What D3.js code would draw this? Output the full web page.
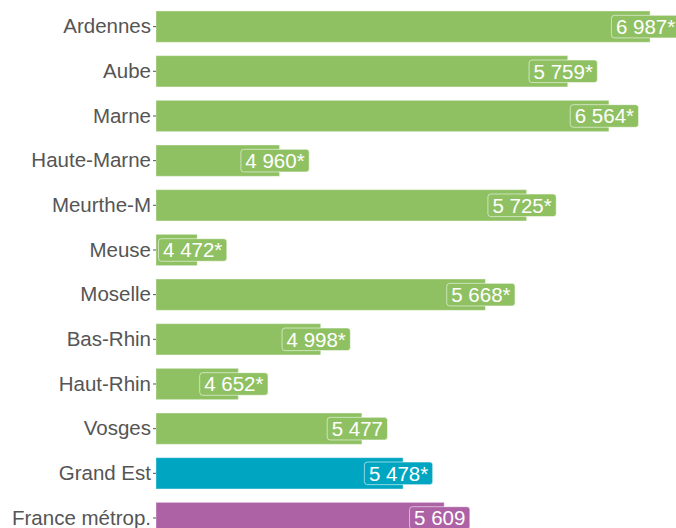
<!DOCTYPE html>
<html><head><meta charset="utf-8">
<script src="https://cdn.jsdelivr.net/npm/d3@7"></script>
<style>body{margin:0;background:#fff}svg{display:block}</style>
</head><body>
<script>
const categories = ["Ardennes","Aube","Marne","Haute-Marne","Meurthe-M","Meuse","Moselle","Bas-Rhin","Haut-Rhin","Vosges","Grand Est","France métrop."];
const values = [6987,5759,6564,4960,5725,4472,5668,4998,4652,5477,5478,5609];
const flags = ["*","*","*","*","*","*","*","*","*","","*",""];
const groups = ["dep","dep","dep","dep","dep","dep","dep","dep","dep","dep","region","france"];
const colors = {dep:"#8fc163", region:"#00a6c1", france:"#ad62a6"};

const W = 676, H = 528;
const svg = d3.select("body").append("svg").attr("width", W).attr("height", H);

// bar length encodes the rank of the value
const sorted = values.slice().sort((a,b)=>a-b);
const rank = values.map(v => sorted.indexOf(v) + 1);

const x = d3.scaleLinear().domain([0, 12.63]).range([156, 676]);
const y = d3.scaleBand().domain(categories).range([6.53, 538.1]).paddingInner(0.3).paddingOuter(0.1);

const fmt = v => d3.format(",")(v).replace(/,/g, " ");
const font = "'Liberation Sans', Arial, sans-serif";

const data = categories.map((c,i)=>({c, v:values[i], r:rank[i], f:flags[i], g:groups[i]}));

svg.selectAll("rect.bar").data(data).join("rect")
  .attr("class","bar")
  .attr("x", x(0))
  .attr("y", d => y(d.c))
  .attr("width", d => x(d.r) - x(0))
  .attr("height", y.bandwidth())
  .attr("fill", d => colors[d.g])
  .attr("stroke", "rgba(255,255,255,0.35)")
  .attr("stroke-width", 1);

// axis
const ax = svg.append("g").attr("transform", `translate(${x(0)},0)`)
  .call(d3.axisLeft(y).tickSize(3).tickPadding(2));
ax.select(".domain").remove();
ax.selectAll(".tick line").attr("stroke", "#555");
ax.selectAll(".tick text").attr("fill", "#555").style("font-family", font).style("font-size", "20.5px");

// labels
const lab = svg.selectAll("g.lab").data(data).join("g").attr("class","lab")
  .attr("transform", d => `translate(${x(d.r) - 4.5},${y(d.c) + y.bandwidth()/2})`);
const txt = lab.append("text")
  .attr("text-anchor","middle").attr("dy","0.36em")
  .attr("fill","#fff").style("font-family", font).style("font-size","20.5px")
  .text(d => fmt(d.v) + d.f);
lab.each(function(d){
  const g = d3.select(this);
  const bb = g.select("text").node().getBBox();
  g.insert("rect","text")
    .attr("x", bb.x - 4.5).attr("y", -11.3)
    .attr("width", bb.width + 9).attr("height", 22.6)
    .attr("rx", 3).attr("ry", 3)
    .attr("fill", colors[d.g])
    .attr("stroke", "rgba(255,255,255,0.55)")
    .attr("stroke-width", 1);
});
</script>
</body></html>
